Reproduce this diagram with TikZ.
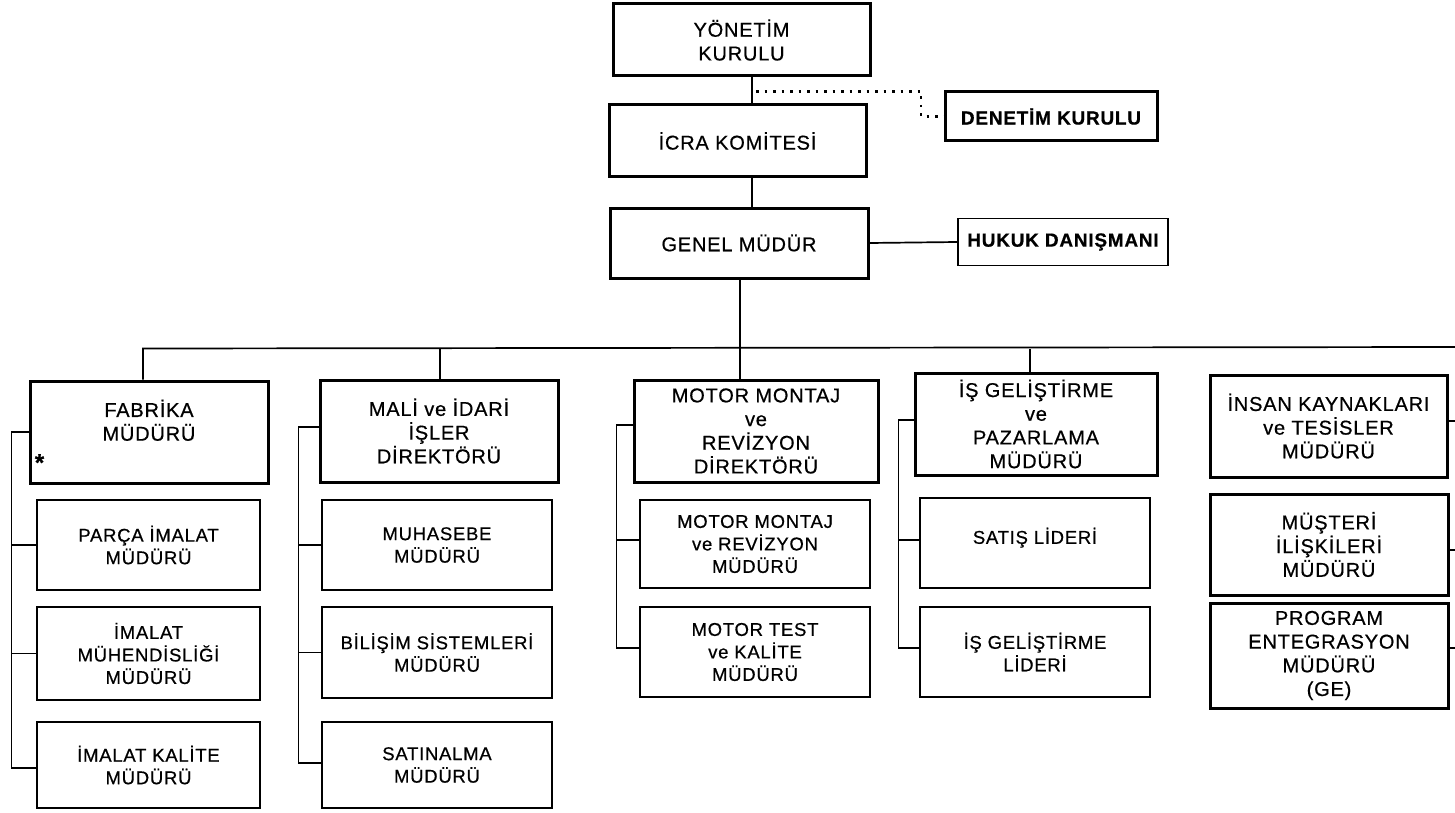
\documentclass[tikz,border=0pt]{standalone}
\usepackage{fontspec}
\setmainfont{Liberation Sans}[LetterSpace=4,FakeBold=0.6]
\begin{document}
\begin{tikzpicture}[x=1pt,y=-1pt,
  sz/.style 2 args={minimum width=#1pt, minimum height=#2pt},
  bx/.style={draw, line width=1.7pt, align=center, inner sep=0pt,
    font=\fontsize{18.5}{22.5}\selectfont},
  thk/.style={bx, line width=3pt, font=\fontsize{20}{23.7}\selectfont},
  ln/.style={line width=1.7pt},
  dots/.style={line width=2.4pt, dash pattern=on 2.5pt off 6pt}]
\useasboundingbox (0,0) rectangle (1455,813);

% top level
\node[thk, sz={257}{72}] (yk) at (741.5,40) {YÖNETİM\\KURULU};
\node[thk, sz={257}{72}] (icra) at (737.5,141) {İCRA KOMİTESİ};
\node[thk, sz={258}{70}] (genel) at (739,243) {GENEL MÜDÜR};
\node[thk, sz={212}{49}, font=\fontsize{19}{23}\selectfont\bfseries] (denetim) at (1051,116.5) {DENETİM KURULU};
\node[bx, sz={210}{47}, font=\fontsize{19}{23}\selectfont\bfseries] (hukuk) at (1063,242) {HUKUK DANIŞMANI};

% directors
\node[thk, sz={238}{102}] (fab) at (149,432) {FABRİKA\\MÜDÜRÜ\\\mbox{}};
\node (star) at ([xshift=11pt,yshift=22pt]fab.south west) {\fontsize{24}{24}\selectfont\bfseries *};
\node[thk, sz={238}{102}] (mali) at (439,431) {MALİ ve İDARİ\\İŞLER\\DİREKTÖRÜ};
\node[thk, sz={244}{102}] (motor) at (756,431) {MOTOR MONTAJ\\ve\\REVİZYON\\DİREKTÖRÜ};
\node[thk, sz={242}{102}] (isg) at (1036,424) {İŞ GELİŞTİRME\\ve\\PAZARLAMA\\MÜDÜRÜ};
\node[thk, sz={237}{102}] (insan) at (1328.5,426) {İNSAN KAYNAKLARI\\ve TESİSLER\\MÜDÜRÜ};

% column 1
\node[bx, sz={223}{90}] (parca) at (148.5,545) {PARÇA İMALAT\\MÜDÜRÜ};
\node[bx, sz={223}{93}] (imm) at (148.5,653.5) {İMALAT\\MÜHENDİSLİĞİ\\MÜDÜRÜ};
\node[bx, sz={223}{86}] (imk) at (148.5,765) {İMALAT KALİTE\\MÜDÜRÜ};
% column 2
\node[bx, sz={230}{90}] (muh) at (437,545) {MUHASEBE\\MÜDÜRÜ};
\node[bx, sz={230}{91}] (bil) at (437,652.5) {BİLİŞİM SİSTEMLERİ\\MÜDÜRÜ};
\node[bx, sz={230}{86}] (sat) at (437,765) {SATINALMA\\MÜDÜRÜ};
% column 3
\node[bx, sz={230}{88}] (mmr) at (755,544) {MOTOR MONTAJ\\ve REVİZYON\\MÜDÜRÜ};
\node[bx, sz={230}{90}] (mtk) at (755,652) {MOTOR TEST\\ve KALİTE\\MÜDÜRÜ};
% column 4
\node[bx, sz={230}{90}] (satis) at (1035,543) {SATIŞ LİDERİ\\[-8pt]\mbox{}};
\node[bx, sz={230}{90}] (isl) at (1035,652) {İŞ GELİŞTİRME\\LİDERİ};
% column 5
\node[thk, sz={238}{101}] (must) at (1329,544.5) {MÜŞTERİ\\İLİŞKİLERİ\\MÜDÜRÜ};
\node[thk, sz={238}{105}] (prog) at (1329,655.5) {PROGRAM\\ENTEGRASYON\\MÜDÜRÜ\\(GE)};

% top connectors
\draw[ln] ([xshift=10.5pt]yk.south) coordinate (a1) -- (a1 |- icra.north);
\path (a1) ++(4,14) coordinate (d0);
\draw[dots] (d0) -- ++(165,0) |- (denetim.west);
\draw[ln] ([xshift=14.5pt]icra.south) coordinate (a2) -- (a2 |- genel.north);
\draw[ln] (genel.east) -- (hukuk.west);
\draw[ln] ([xshift=1pt]genel.south) coordinate (g0) -- ++(0,69) coordinate (g1);

% bus and drops
\coordinate (re) at (1457,347);
\draw[ln] ([xshift=-6pt]fab.north) coordinate (f0) -- (f0 |- g1) -- (re);
\draw[ln] ([xshift=1pt]mali.north) coordinate (m0) -- (m0 |- g1);
\draw[ln] ([xshift=-16pt]motor.north) coordinate (o0) -- (o0 |- g1);
\draw[ln] ([xshift=-6pt]isg.north) coordinate (i0) -- (i0 |- g1);
\draw[ln] (re) -- (re |- 0,648);

% column 5 ticks (right side)
\draw[ln] ([yshift=5pt]insan.east) -- ([yshift=5pt]insan.east -| re);
\draw[ln] ([yshift=-5.5pt]must.east) -- ([yshift=-5.5pt]must.east -| re);
\draw[ln] ([yshift=7.5pt]prog.east) -- ([yshift=7.5pt]prog.east -| re);

% column 1 tree
\draw[ln] (fab.west) -- ++(-17,0) coordinate (c1) |- ([yshift=-3pt]imk.west);
\draw[ln] (c1 |- parca.west) -- (parca.west);
\draw[ln] (c1 |- imm.west) -- (imm.west);
% column 2 tree
\draw[ln] ([yshift=4pt]mali.west) -- ++(-20,0) coordinate (c2) |- ([yshift=2pt]sat.west);
\draw[ln] (c2 |- muh.west) -- (muh.west);
\draw[ln] (c2 |- bil.west) -- (bil.west);
% column 3 tree
\draw[ln] ([yshift=6pt]motor.west) -- ++(-16,0) coordinate (c3) |- ([yshift=4pt]mtk.west);
\draw[ln] ([yshift=4pt]mmr.west -| c3) -- ([yshift=4pt]mmr.west);
% column 4 tree
\draw[ln] ([yshift=4pt]isg.west) -- ++(-15,0) coordinate (c4) |- ([yshift=4pt]isl.west);
\draw[ln] ([yshift=3pt]satis.west -| c4) -- ([yshift=3pt]satis.west);
\end{tikzpicture}
\end{document}
